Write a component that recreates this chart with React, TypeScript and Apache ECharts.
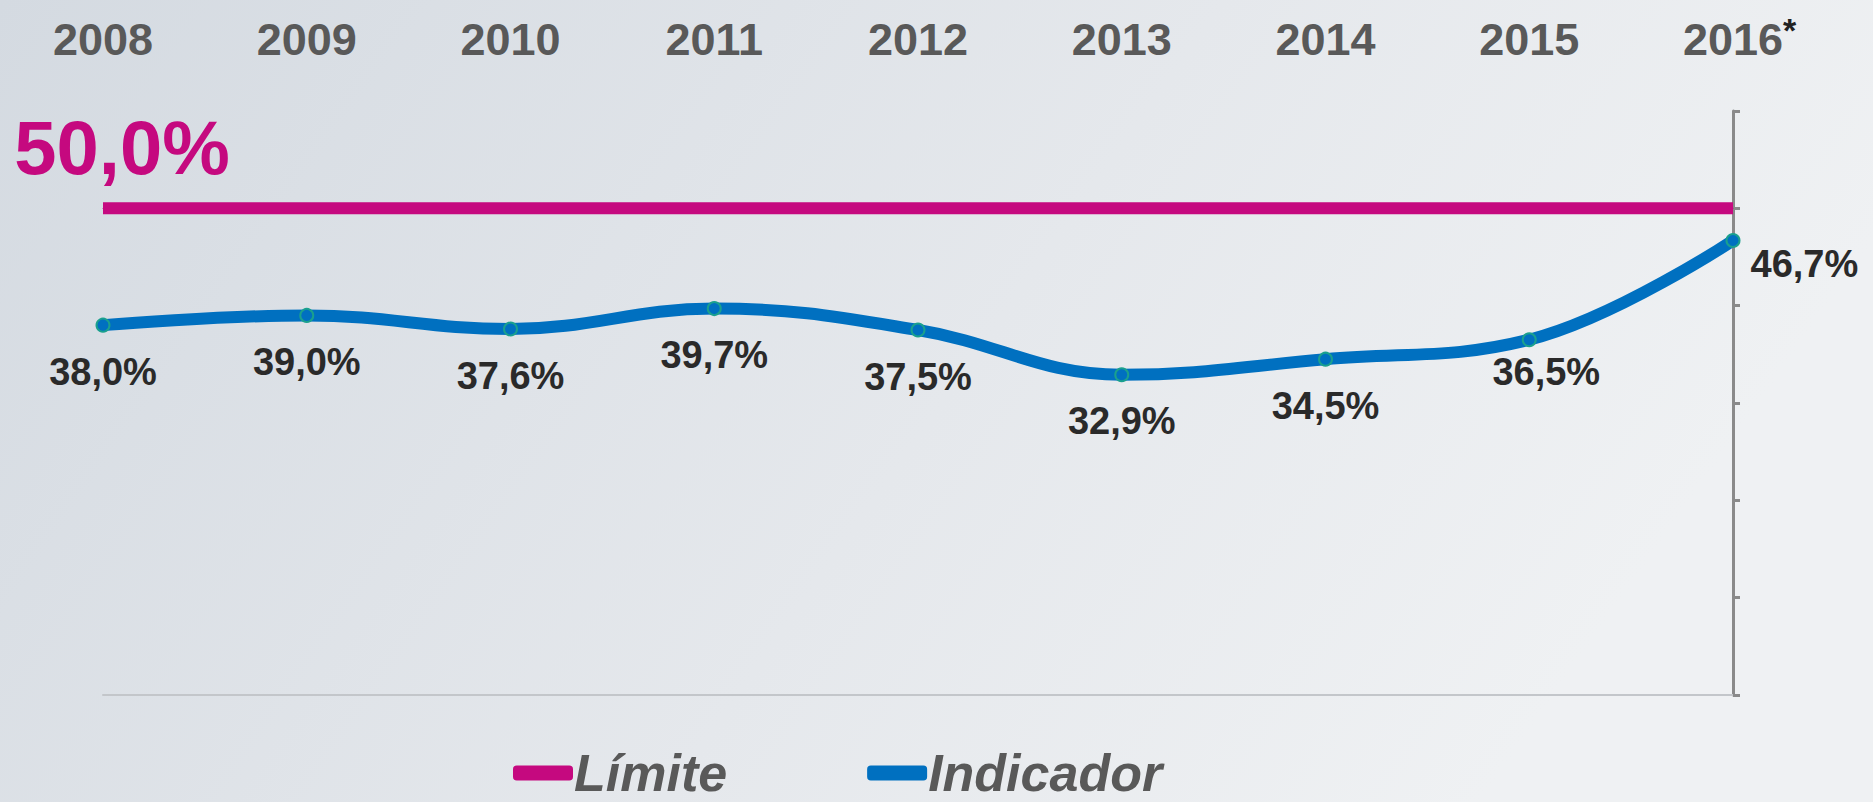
import React, { useEffect, useRef } from "react";
import * as echarts from "echarts";

const years = ["2008", "2009", "2010", "2011", "2012", "2013", "2014", "2015", "2016"];
const indicador = [38.0, 39.0, 37.6, 39.7, 37.5, 32.9, 34.5, 36.5, 46.7];
const limite = [50, 50, 50, 50, 50, 50, 50, 50, 50];
const yTicks = { min: 0, max: 60, interval: 10 };

const fmt = (v: number) => v.toFixed(1).replace(".", ",") + "%";

export default function App() {
  const ref = useRef<HTMLDivElement>(null);
  useEffect(() => {
    document.body.style.margin = "0";
    const chart = echarts.init(ref.current!, null, { renderer: "svg" });
    const font = "'Liberation Sans', Arial, sans-serif";
    const indData = indicador.map((v, i) => {
      const item: any = { value: v };
      if (i === indicador.length - 2) {
        item.label = { offset: [17, -14] };
      }
      if (i === indicador.length - 1) {
        item.label = { position: "right", distance: 10, offset: [0, 24] };
      }
      return item;
    });
    const limData = limite.map((v, i) =>
      i === 0
        ? {
            value: v,
            label: {
              show: true,
              position: "top",
              distance: 0,
              offset: [19, -22],
              formatter: (p: any) => fmt(p.value),
              fontSize: 76,
              lineHeight: 76,
              fontWeight: 900,
              color: "#C5097F",
              fontFamily: font,
            },
          }
        : v
    );
    chart.setOption({
      animation: false,
      backgroundColor: {
        type: "linear",
        x: 0,
        y: 0,
        x2: 1,
        y2: 0.3,
        colorStops: [
          { offset: 0, color: "#d4dae1" },
          { offset: 0.6, color: "#e5e8ec" },
          { offset: 1, color: "#eff1f3" },
        ],
      },
      grid: { left: 103, right: 140, top: 111, bottom: 107 },
      legend: {
        left: 508,
        top: 742,
        itemWidth: 60,
        itemHeight: 15,
        itemGap: 140,
        data: [
          { name: "Límite", icon: "roundRect", itemStyle: { color: "#C5097F", borderWidth: 0 } },
          { name: "Indicador", icon: "roundRect", itemStyle: { color: "#0070C0", borderWidth: 0 } },
        ],
        textStyle: {
          fontSize: 52,
          fontStyle: "italic",
          fontWeight: "bold",
          color: "#595959",
          fontFamily: font,
          padding: [0, 0, 0, -4],
        },
      },
      xAxis: [
        {
          type: "category",
          data: years,
          boundaryGap: false,
          position: "bottom",
          axisLine: { show: true, lineStyle: { color: "#c3c6ca", width: 2 } },
          axisTick: { show: false },
          axisLabel: { show: false },
        },
        {
          type: "category",
          data: years,
          boundaryGap: false,
          position: "top",
          axisLine: { show: false },
          axisTick: { show: false },
          axisLabel: {
            show: true,
            margin: 72,
            verticalAlign: "middle",
            formatter: (v: string, idx: number) =>
              idx === years.length - 1 ? `{sp|*}{y|${v}}{s|*}` : `{y|${v}}`,
            rich: {
              y: { fontSize: 45, fontWeight: "bold", color: "#595959", fontFamily: font },
              s: { fontSize: 34, fontWeight: "bold", color: "#222", fontFamily: font, verticalAlign: "top", padding: [0, 0, 18, 0] },
              sp: { fontSize: 34, fontWeight: "bold", color: "rgba(0,0,0,0)", fontFamily: font },
            },
          },
        },
      ],
      yAxis: {
        type: "value",
        position: "right",
        min: yTicks.min,
        max: yTicks.max,
        interval: yTicks.interval,
        axisLine: { show: true, lineStyle: { color: "#8a8a8a", width: 3 } },
        axisTick: { show: true, length: 7, inside: false, lineStyle: { color: "#8a8a8a", width: 3 } },
        axisLabel: { show: false },
        splitLine: { show: false },
      },
      series: [
        {
          name: "Límite",
          type: "line",
          data: limData,
          symbol: "circle",
          symbolSize: 1,
          itemStyle: { color: "#C5097F" },
          lineStyle: { color: "#C5097F", width: 12, cap: "butt" },
          label: { show: false },
        },
        {
          name: "Indicador",
          type: "line",
          data: indData,
          smooth: 0.4,
          symbol: "circle",
          symbolSize: 13,
          itemStyle: { color: "#0070C0", borderColor: "#1aa08e", borderWidth: 2 },
          lineStyle: { color: "#0070C0", width: 12, cap: "round" },
          label: {
            show: true,
            position: "bottom",
            distance: 20,
            formatter: (p: any) => fmt(p.value),
            fontSize: 38,
            fontWeight: "bold",
            color: "#2a2a2a",
            fontFamily: font,
          },
        },
      ],
    });
    return () => chart.dispose();
  }, []);
  return <div ref={ref} style={{ width: 1873, height: 802 }} />;
}
